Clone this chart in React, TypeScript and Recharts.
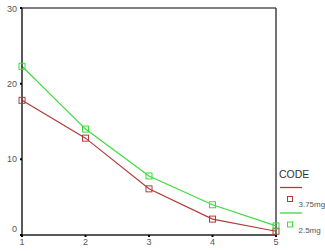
import React from 'react';
import { LineChart, Line, XAxis, YAxis, ReferenceLine } from 'recharts';

const categories = [1, 2, 3, 4, 5];
const series375 = [17.8, 12.8, 6.1, 2.1, 0.5];
const series25 = [22.3, 14.0, 7.8, 4.0, 1.2];
const yTicks = [0, 10, 20, 30];
const seriesNames = ['3.75mg', '2.5mg'];
const legendTitle = 'CODE';

const RED = '#b23a3a';
const GREEN = '#3ddc3d';
const FONT = 'Arial, "Liberation Sans", sans-serif';

const data = categories.map((c, i) => ({ x: c, a: series375[i], b: series25[i] }));

const SquareDot = (color: string) => (props: any) => {
  const { cx, cy, index } = props;
  if (cx == null || cy == null) return <g key={index} />;
  return <rect key={index} x={cx - 3} y={cy - 3} width={6} height={6} fill="none" stroke={color} strokeWidth={1} />;
};

const YTick = (props: any) => {
  const { x, y, payload } = props;
  const shift = payload.value === 0 ? -6 : 0;
  return (
    <text x={x} y={y + shift} dy={3} textAnchor="end" fontSize={9} fill="#555" fontFamily={FONT}>
      {payload.value}
    </text>
  );
};

const LegendBox = () => (
  <svg width={325} height={251} style={{ position: 'absolute', left: 0, top: 0, pointerEvents: 'none' }}>
    <text x={279} y={178} fontSize={10.5} fill="#333" fontFamily={FONT}>{legendTitle}</text>
    {[RED, GREEN].map((c, i) => {
      const off = i * 25.5;
      return (
        <g key={i}>
          <line x1={280} x2={302} y1={187.5 + off} y2={187.5 + off} stroke={c} strokeWidth={1.3} />
          <rect x={287.5} y={196.5 + off} width={5} height={5} fill="none" stroke={c} strokeWidth={1} />
          <text x={298.5} y={207 + off} fontSize={8} fill="#555" fontFamily={FONT}>{seriesNames[i]}</text>
        </g>
      );
    })}
  </svg>
);

export default function App() {
  return (
    <div style={{ position: 'absolute', left: 0, top: 0, width: 325, height: 251, background: '#fff' }}>
      <LineChart width={325} height={251} data={data} margin={{ top: 8, right: 49, bottom: 2, left: 6 }}>
        <XAxis
          dataKey="x"
          type="number"
          domain={[1, 5]}
          ticks={categories}
          stroke="#222"
          tickSize={2}
          tickLine={{ stroke: '#000', strokeWidth: 2 }}
          height={14}
          tick={{ fontSize: 9, fill: '#555', fontFamily: FONT }}
          tickMargin={2}
          axisLine={{ stroke: '#222', strokeWidth: 1.5 }}
        />
        <YAxis
          type="number"
          domain={[0, 30]}
          ticks={yTicks}
          width={16}
          tickSize={2}
          tickLine={{ stroke: '#000', strokeWidth: 2 }}
          tick={<YTick />}
          tickMargin={3}
          axisLine={{ stroke: '#222', strokeWidth: 1.5 }}
        />
        <ReferenceLine y={30} stroke="#555" strokeWidth={1.5} />
        <ReferenceLine x={5} stroke="#444" strokeWidth={1.5} />
        <Line type="linear" dataKey="a" stroke={RED} strokeWidth={1.2} dot={SquareDot(RED)} isAnimationActive={false} />
        <Line type="linear" dataKey="b" stroke={GREEN} strokeWidth={1.2} dot={SquareDot(GREEN)} isAnimationActive={false} />
      </LineChart>
      <LegendBox />
    </div>
  );
}
